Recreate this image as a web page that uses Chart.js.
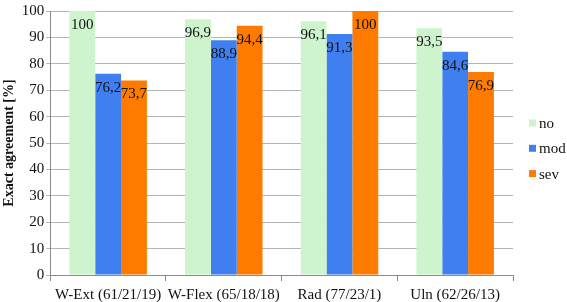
<!DOCTYPE html>
<html>
<head>
<meta charset="utf-8">
<script src="https://cdn.jsdelivr.net/npm/chart.js@4.4.1/dist/chart.umd.min.js"></script>
<style>
  html, body { margin: 0; padding: 0; background: #fff; }
  #wrap { width: 567px; height: 302px; }
</style>
</head>
<body>
<div id="wrap"><canvas id="chart"></canvas></div>
<script>
const categories = ["W-Ext (61/21/19)", "W-Flex (65/18/18)", "Rad (77/23/1)", "Uln (62/26/13)"];
const noValues = [100, 96.9, 96.1, 93.5];
const modValues = [76.2, 88.9, 91.3, 84.6];
const sevValues = [73.7, 94.4, 100, 76.9];
const yTicks = [0, 10, 20, 30, 40, 50, 60, 70, 80, 90, 100];

const FONT = "'Liberation Serif', 'Times New Roman', serif";

// writes the value inside the top of each bar, with a comma decimal
const barLabels = {
  id: "barLabels",
  afterDatasetsDraw(chart) {
    const ctx = chart.ctx;
    ctx.save();
    ctx.font = "15px " + FONT;
    ctx.fillStyle = "#111";
    ctx.textAlign = "center";
    ctx.textBaseline = "middle";
    chart.data.datasets.forEach((ds, i) => {
      chart.getDatasetMeta(i).data.forEach((bar, j) => {
        const txt = String(ds.data[j]).replace(".", ",");
        ctx.fillText(txt, bar.x, bar.y + 14);
      });
    });
    ctx.restore();
  }
};

// small legend to the right of the plot, stacked vertically
const sideLegend = {
  id: "sideLegend",
  afterDraw(chart) {
    const ctx = chart.ctx;
    const area = chart.chartArea;
    const x = area.right + 16;
    const y0 = 123;
    const step = 25.3;
    ctx.save();
    ctx.font = "15px " + FONT;
    ctx.textBaseline = "middle";
    chart.data.datasets.forEach((ds, i) => {
      const cy = y0 + i * step;
      ctx.fillStyle = ds.backgroundColor;
      ctx.fillRect(x, cy - 3.5, 7, 7);
      ctx.fillStyle = "#111";
      ctx.fillText(ds.label, x + 10, cy + 1);
    });
    ctx.restore();
  }
};

new Chart(document.getElementById("chart"), {
  type: "bar",
  data: {
    labels: categories,
    datasets: [
      { label: "no", data: noValues, backgroundColor: "#cdf4cd" },
      { label: "mod", data: modValues, backgroundColor: "#3f7ff0" },
      { label: "sev", data: sevValues, backgroundColor: "#ff7b00" }
    ]
  },
  options: {
    responsive: true,
    maintainAspectRatio: false,
    animation: false,
    layout: { padding: { top: 5, right: 54, bottom: -7, left: 1 } },
    datasets: { bar: { barPercentage: 1, categoryPercentage: 0.67 } },
    scales: {
      x: {
        grid: { drawOnChartArea: false, tickLength: 6, color: "#8a8a8a" },
        border: { color: "#8a8a8a" },
        ticks: { color: "#111", font: { family: FONT, size: 15 }, padding: 5, maxRotation: 0, autoSkip: false }
      },
      y: {
        min: 0,
        max: 100,
        afterBuildTicks: (axis) => { axis.ticks = yTicks.map(v => ({ value: v })); },
        grid: { color: "#b4b4b4", tickLength: 4 },
        border: { color: "#8a8a8a" },
        ticks: { color: "#111", font: { family: FONT, size: 15 }, padding: 2 },
        title: {
          display: true,
          text: "Exact agreement [%]",
          color: "#111",
          font: { family: FONT, size: 14, weight: "bold" },
          padding: { top: 0, bottom: 2 }
        }
      }
    },
    plugins: {
      legend: { display: false },
      tooltip: { enabled: false }
    }
  },
  plugins: [barLabels, sideLegend]
});
</script>
</body>
</html>
